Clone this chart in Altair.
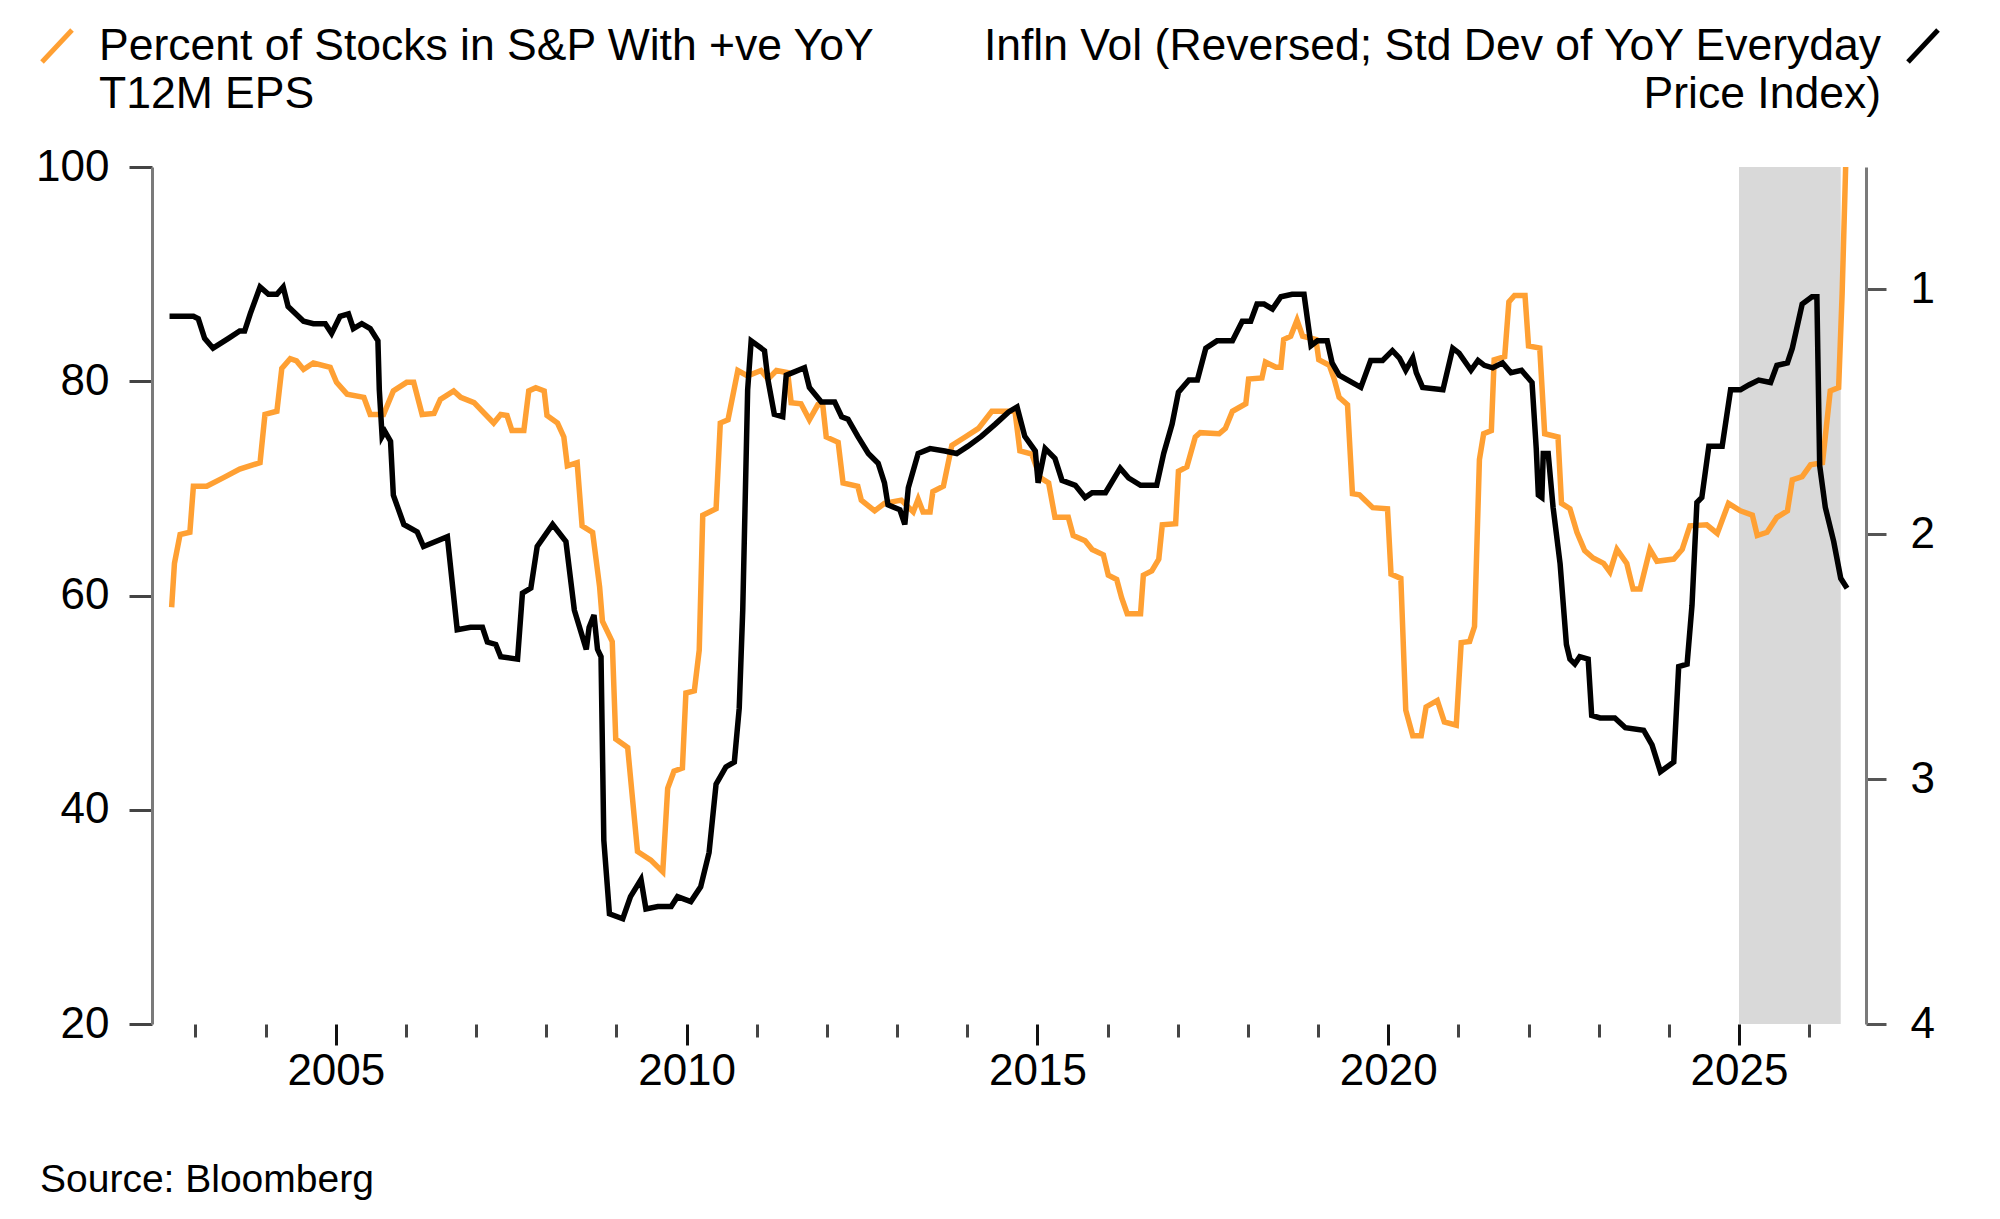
import altair as alt
import pandas as pd

# ---------------- data ----------------
eps_year = [
    2002.66, 2002.70, 2002.78, 2002.92, 2002.97, 2003.16, 2003.40, 2003.63, 2003.92, 2003.99,
    2004.16, 2004.23, 2004.35, 2004.44, 2004.54, 2004.68, 2004.92, 2005.01, 2005.16, 2005.40,
    2005.49, 2005.68, 2005.82, 2006.01, 2006.11, 2006.23, 2006.40, 2006.49, 2006.68, 2006.78,
    2006.97, 2007.25, 2007.35, 2007.44, 2007.51, 2007.68, 2007.75, 2007.85, 2007.97, 2008.01,
    2008.16, 2008.25, 2008.30, 2008.44, 2008.51, 2008.66, 2008.76, 2008.80, 2008.94, 2008.99,
    2009.16, 2009.30, 2009.49, 2009.66, 2009.73, 2009.82, 2009.94, 2009.99, 2010.11, 2010.18,
    2010.23, 2010.42, 2010.48, 2010.59, 2010.73, 2010.87, 2011.06, 2011.16, 2011.28, 2011.44,
    2011.49, 2011.63, 2011.75, 2011.87, 2011.94, 2011.99, 2012.16, 2012.23, 2012.44, 2012.49,
    2012.68, 2012.82, 2013.06, 2013.23, 2013.30, 2013.37, 2013.47, 2013.51, 2013.66, 2013.78,
    2013.97, 2014.16, 2014.35, 2014.68, 2014.75, 2014.92, 2015.04, 2015.16, 2015.25, 2015.44,
    2015.51, 2015.68, 2015.78, 2015.94, 2016.01, 2016.13, 2016.20, 2016.28, 2016.47, 2016.51,
    2016.63, 2016.73, 2016.78, 2016.97, 2017.01, 2017.13, 2017.25, 2017.32, 2017.59, 2017.68,
    2017.78, 2017.97, 2018.01, 2018.20, 2018.25, 2018.40, 2018.47, 2018.51, 2018.61, 2018.70,
    2018.78, 2018.97, 2019.01, 2019.16, 2019.23, 2019.30, 2019.42, 2019.49, 2019.59, 2019.78,
    2019.99, 2020.04, 2020.18, 2020.25, 2020.35, 2020.47, 2020.54, 2020.70, 2020.80, 2020.97,
    2021.04, 2021.16, 2021.23, 2021.30, 2021.36, 2021.47, 2021.51, 2021.66, 2021.72, 2021.80,
    2021.95, 2022.00, 2022.16, 2022.23, 2022.42, 2022.47, 2022.59, 2022.69, 2022.80, 2022.92,
    2023.07, 2023.16, 2023.26, 2023.40, 2023.49, 2023.59, 2023.73, 2023.83, 2024.07, 2024.19,
    2024.30, 2024.54, 2024.69, 2024.85, 2025.02, 2025.19, 2025.26, 2025.40, 2025.54, 2025.69,
    2025.76, 2025.90, 2026.02, 2026.19, 2026.30, 2026.42, 2026.47, 2026.52,
]
eps_pct = [
    58.9, 63.0, 65.7, 65.9, 70.2, 70.2, 71.0, 71.8, 72.4, 76.9,
    77.2, 81.2, 82.1, 81.9, 81.1, 81.7, 81.3, 79.9, 78.8, 78.5,
    76.9, 76.9, 79.1, 79.9, 79.9, 76.9, 77.0, 78.3, 79.1, 78.5,
    78.0, 76.1, 76.9, 76.8, 75.4, 75.4, 79.1, 79.4, 79.1, 76.8,
    76.1, 74.8, 72.1, 72.4, 66.5, 65.9, 60.8, 57.6, 55.7, 46.6,
    45.8, 36.1, 35.3, 34.2, 42.0, 43.6, 43.9, 50.9, 51.1, 54.9,
    67.5, 68.1, 76.1, 76.4, 81.0, 80.5, 81.0, 80.2, 81.0, 80.8,
    78.0, 77.9, 76.4, 77.8, 77.8, 74.8, 74.3, 70.5, 70.2, 68.9,
    67.9, 68.6, 68.9, 67.8, 69.0, 67.8, 67.8, 69.7, 70.2, 74.0,
    74.8, 75.6, 77.2, 77.2, 73.5, 73.2, 71.0, 70.5, 67.3, 67.3,
    65.6, 65.1, 64.3, 63.8, 61.9, 61.5, 59.8, 58.3, 58.3, 61.9,
    62.3, 63.4, 66.6, 66.7, 71.6, 72.0, 74.8, 75.2, 75.1, 75.6,
    77.2, 77.9, 80.2, 80.3, 81.8, 81.3, 81.3, 83.9, 84.2, 85.7,
    84.2, 83.9, 82.0, 81.5, 80.2, 78.5, 77.8, 69.5, 69.4, 68.2,
    68.1, 62.0, 61.6, 49.3, 46.9, 46.9, 49.6, 50.2, 48.2, 47.9,
    55.6, 55.7, 57.1, 72.7, 75.1, 75.4, 82.0, 82.3, 87.4, 88.0,
    88.0, 83.3, 83.1, 75.1, 74.8, 68.6, 68.1, 65.9, 64.2, 63.5,
    63.0, 62.2, 64.3, 63.0, 60.6, 60.6, 64.3, 63.2, 63.4, 64.3,
    66.5, 66.6, 65.8, 68.6, 67.9, 67.5, 65.6, 65.9, 67.3, 67.9,
    70.8, 71.1, 72.2, 72.4, 79.1, 79.4, 88.2, 100.0,
]

vol_year = [
    2002.63, 2002.97, 2003.04, 2003.13, 2003.25, 2003.47, 2003.63, 2003.70, 2003.78, 2003.92,
    2004.04, 2004.16, 2004.25, 2004.32, 2004.54, 2004.68, 2004.85, 2004.94, 2005.06, 2005.18,
    2005.25, 2005.37, 2005.49, 2005.60, 2005.62, 2005.66, 2005.70, 2005.78, 2005.82, 2005.97,
    2006.16, 2006.25, 2006.59, 2006.73, 2006.92, 2007.09, 2007.16, 2007.28, 2007.35, 2007.59,
    2007.66, 2007.78, 2007.87, 2008.09, 2008.28, 2008.40, 2008.57, 2008.61, 2008.68, 2008.73,
    2008.78, 2008.82, 2008.90, 2009.09, 2009.20, 2009.35, 2009.42, 2009.59, 2009.78, 2009.87,
    2010.06, 2010.20, 2010.32, 2010.42, 2010.56, 2010.68, 2010.75, 2010.80, 2010.87, 2010.92,
    2011.11, 2011.16, 2011.25, 2011.37, 2011.42, 2011.51, 2011.68, 2011.75, 2011.92, 2012.11,
    2012.21, 2012.30, 2012.44, 2012.59, 2012.73, 2012.82, 2012.87, 2013.04, 2013.11, 2013.16,
    2013.30, 2013.47, 2013.68, 2013.85, 2014.01, 2014.20, 2014.40, 2014.59, 2014.71, 2014.82,
    2014.97, 2015.01, 2015.11, 2015.25, 2015.35, 2015.54, 2015.68, 2015.78, 2015.97, 2016.18,
    2016.30, 2016.47, 2016.70, 2016.80, 2016.92, 2017.01, 2017.16, 2017.28, 2017.40, 2017.56,
    2017.78, 2017.92, 2018.04, 2018.13, 2018.23, 2018.35, 2018.47, 2018.63, 2018.80, 2018.90,
    2018.99, 2019.13, 2019.20, 2019.30, 2019.61, 2019.75, 2019.92, 2020.06, 2020.16, 2020.25,
    2020.35, 2020.40, 2020.49, 2020.78, 2020.92, 2021.01, 2021.18, 2021.28, 2021.37, 2021.49,
    2021.63, 2021.75, 2021.90, 2022.05, 2022.11, 2022.14, 2022.19, 2022.21, 2022.28, 2022.35,
    2022.45, 2022.54, 2022.59, 2022.66, 2022.73, 2022.85, 2022.90, 2023.02, 2023.23, 2023.38,
    2023.64, 2023.76, 2023.88, 2024.07, 2024.14, 2024.26, 2024.33, 2024.40, 2024.47, 2024.57,
    2024.76, 2024.88, 2025.02, 2025.14, 2025.28, 2025.45, 2025.54, 2025.69, 2025.76, 2025.90,
    2026.04, 2026.11, 2026.15, 2026.23, 2026.35, 2026.45, 2026.54,
]
vol_std = [
    1.11, 1.11, 1.12, 1.20, 1.24, 1.20, 1.17, 1.17, 1.10, 0.99,
    1.02, 1.02, 0.99, 1.07, 1.13, 1.14, 1.14, 1.18, 1.11, 1.10,
    1.16, 1.14, 1.16, 1.21, 1.41, 1.60, 1.58, 1.62, 1.84, 1.96,
    1.99, 2.05, 2.01, 2.39, 2.38, 2.38, 2.44, 2.45, 2.50, 2.51,
    2.24, 2.22, 2.05, 1.96, 2.03, 2.31, 2.47, 2.38, 2.33, 2.47,
    2.50, 3.25, 3.55, 3.57, 3.48, 3.41, 3.53, 3.52, 3.52, 3.48,
    3.50, 3.44, 3.30, 3.02, 2.95, 2.93, 2.71, 2.31, 1.41, 1.21,
    1.25, 1.37, 1.51, 1.52, 1.35, 1.34, 1.32, 1.40, 1.46, 1.46,
    1.52, 1.53, 1.60, 1.67, 1.71, 1.79, 1.88, 1.90, 1.96, 1.81,
    1.67, 1.65, 1.66, 1.67, 1.64, 1.60, 1.55, 1.50, 1.48, 1.60,
    1.66, 1.79, 1.65, 1.69, 1.78, 1.80, 1.85, 1.83, 1.83, 1.73,
    1.77, 1.80, 1.80, 1.67, 1.55, 1.42, 1.37, 1.37, 1.24, 1.21,
    1.21, 1.13, 1.13, 1.06, 1.06, 1.08, 1.03, 1.02, 1.02, 1.23,
    1.21, 1.21, 1.30, 1.35, 1.40, 1.29, 1.29, 1.25, 1.28, 1.33,
    1.28, 1.34, 1.40, 1.41, 1.24, 1.26, 1.33, 1.29, 1.31, 1.32,
    1.30, 1.34, 1.33, 1.38, 1.65, 1.84, 1.85, 1.67, 1.67, 1.89,
    2.12, 2.45, 2.51, 2.53, 2.50, 2.51, 2.74, 2.75, 2.75, 2.79,
    2.80, 2.86, 2.97, 2.93, 2.54, 2.53, 2.29, 1.87, 1.85, 1.64,
    1.64, 1.41, 1.41, 1.39, 1.37, 1.38, 1.31, 1.30, 1.24, 1.06,
    1.03, 1.03, 1.72, 1.89, 2.03, 2.18, 2.22,
]

band_start = [2025.0]
band_end = [2026.45]

year_ticks = list(range(2003, 2027))
left_ticks = [20, 40, 60, 80, 100]
right_ticks = [1, 2, 3, 4]

left_label = ["Percent of Stocks in S&P With +ve YoY", "T12M EPS"]
right_label = ["Infln Vol (Reversed; Std Dev of YoY Everyday", "Price Index)"]
source_text = "Source: Bloomberg"

# ---------------- styling ----------------
ORANGE = "#FFA033"
BLACK = "#000000"
FONT = "Liberation Sans"
W, H = 1714, 857

eps_df = pd.DataFrame({"year": eps_year, "pct": eps_pct})
vol_df = pd.DataFrame({"year": vol_year, "vol": vol_std})
band_df = pd.DataFrame({"start": band_start, "end": band_end,
                        "top": [100] * len(band_start), "bottom": [20] * len(band_start)})
dummy = pd.DataFrame({"d": [0]})

xscale = alt.Scale(domain=[2002.38, 2026.81], nice=False, zero=False)
x_axis = alt.Axis(
    orient="bottom", values=year_ticks, domain=False, grid=False,
    tickSize={"condition": {"test": "datum.value % 5 === 0", "value": 21}, "value": 13},
    tickColor={"condition": {"test": "datum.value % 5 === 0", "value": "#111"}, "value": "#444"},
    tickWidth=3,
    labelExpr="datum.value % 5 === 0 ? format(datum.value, 'd') : ''",
    labelFontSize=44, labelFont=FONT, labelColor="#000", labelPadding=4,
    labelFlush=False, labelOverlap=False, title=None,
)
left_scale = alt.Scale(domain=[20, 100], nice=False, zero=False)
left_axis = alt.Axis(
    orient="left", values=left_ticks, grid=False, domainColor="#7a7a7a", domainWidth=3,
    tickColor="#444", tickWidth=3, tickSize=23, labelFontSize=44, labelFont=FONT,
    labelColor="#000", labelPadding=20, title=None, format="d",
)
right_scale = alt.Scale(domain=[0.5, 4], reverse=True, nice=False, zero=False)
right_axis = alt.Axis(
    orient="right", values=right_ticks, grid=False, domainColor="#7a7a7a", domainWidth=3,
    tickColor="#555", tickWidth=3, tickSize=20, labelFontSize=44, labelFont=FONT,
    labelColor="#000", labelPadding=24, title=None, format="d",
)

band = alt.Chart(band_df).mark_rect(color="#d9d9d9").encode(
    x=alt.X("start:Q", scale=xscale, axis=x_axis),
    x2="end:Q",
    y=alt.Y("top:Q", scale=left_scale, axis=None),
    y2="bottom:Q",
)

eps_line = alt.Chart(eps_df).mark_line(color=ORANGE, strokeWidth=5.5).encode(
    x=alt.X("year:Q", scale=xscale, axis=x_axis),
    y=alt.Y("pct:Q", scale=left_scale, axis=left_axis),
)

vol_line = alt.Chart(vol_df).mark_line(color=BLACK, strokeWidth=5.5).encode(
    x=alt.X("year:Q", scale=xscale, axis=x_axis),
    y=alt.Y("vol:Q", scale=right_scale, axis=right_axis),
)


def text_item(txt, x, y, align="left", size=44.5):
    return alt.Chart(dummy).mark_text(
        align=align, baseline="alphabetic", font=FONT, fontSize=size, color="#000"
    ).encode(x=alt.value(x), y=alt.value(y), text=alt.value(txt))


def slash(color, x1, x2):
    return alt.Chart(dummy).mark_rule(color=color, strokeWidth=5, strokeCap="butt").encode(
        x=alt.value(x1), x2=alt.value(x2), y=alt.value(-105), y2=alt.value(-137)
    )


legend_layers = [
    slash(ORANGE, -110, -80),
    text_item(left_label[0], -53, -107),
    text_item(left_label[1], -53, -59),
    text_item(right_label[0], 1729, -107, align="right"),
    text_item(right_label[1], 1729, -59, align="right"),
    slash(BLACK, 1756, 1786),
    text_item(source_text, -112, 1025, size=39),
]

chart = alt.layer(band, eps_line, vol_line, *legend_layers).resolve_scale(
    y="independent"
).properties(
    width=W, height=H,
    autosize=alt.AutoSizeParams(type="none"),
    padding={"left": 144, "top": 159, "right": 110, "bottom": 184},
).configure_view(stroke=None)

chart.save("out.html", embed_options={"renderer": "svg", "actions": False})
